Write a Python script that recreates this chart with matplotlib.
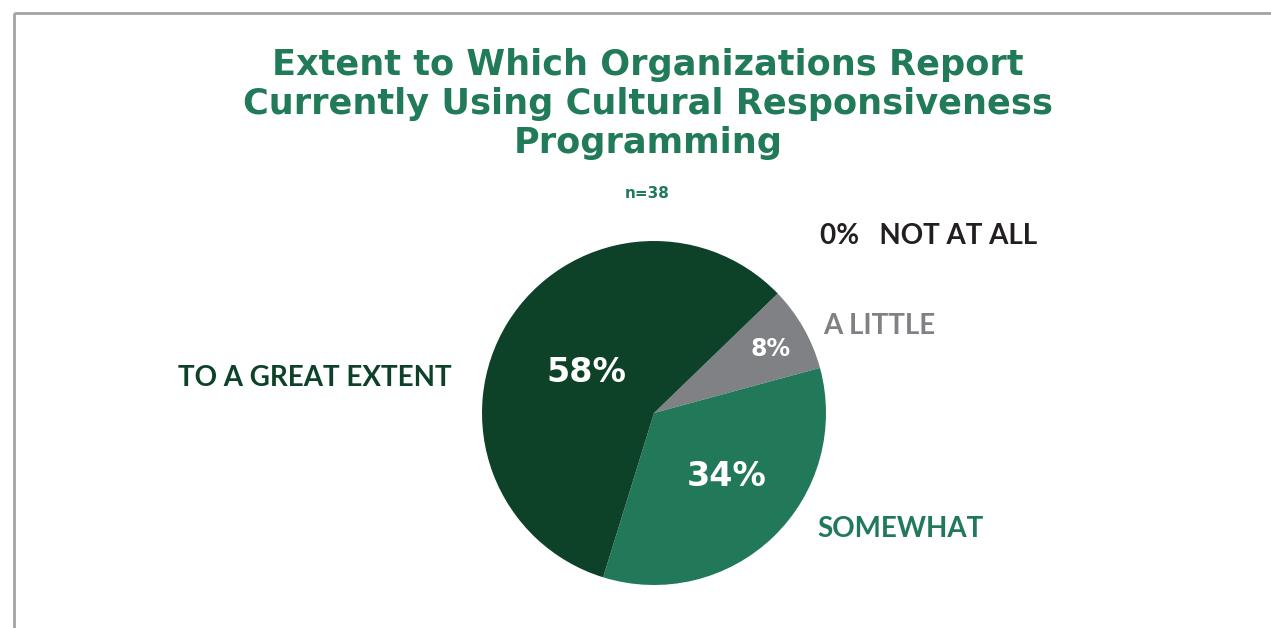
import matplotlib
matplotlib.use("Agg")
import matplotlib.pyplot as plt

# data
categories = ["NOT AT ALL", "A LITTLE", "SOMEWHAT", "TO A GREAT EXTENT"]
values = [0, 8, 34, 58]
colors = ["#231f20", "#808184", "#22795a", "#0d4229"]
n_label = "n=38"
title = "Extent to Which Organizations Report\nCurrently Using Cultural Responsiveness\nProgramming"

W, H = 1271, 628
fig = plt.figure(figsize=(W / 100, H / 100), dpi=100)
ax = fig.add_axes([0, 0, 1, 1])
ax.set_xlim(0, W)
ax.set_ylim(0, H)
ax.axis("off")

# frame lines top and left
ax.plot([14, W], [H - 13, H - 13], color="#a3a3a3", lw=2, solid_capstyle="butt")
ax.plot([14, 14], [0, H - 13], color="#a3a3a3", lw=2, solid_capstyle="butt")

cx, cy, r = 654, H - 413, 172
wedges, _ = ax.pie(values, colors=colors, startangle=44, counterclock=False,
                   center=(cx, cy), radius=r, frame=True,
                   wedgeprops=dict(linewidth=0))
ax.set_xlim(0, W)
ax.set_ylim(0, H)
ax.axis("off")

green = "#217a58"
ax.text(648, H - 104, title, ha="center", va="center", fontsize=25.3,
        fontweight="bold", color=green, linespacing=1.17, family="DejaVu Sans")
ax.text(647, H - 193, n_label, ha="center", va="center", fontsize=11,
        fontweight="bold", color=green, family="DejaVu Sans")

# percentage labels inside slices
inside = {1: (771, 349, 17), 2: (727, 477, 24), 3: (586, 373, 24)}
for i, (x, y, fs) in inside.items():
    ax.text(x, H - y, f"{values[i]}%", ha="center", va="center", fontsize=fs,
            fontweight="bold", color="white", family="DejaVu Sans")

# category labels outside
lab_font = "Lato"
fs = 20
ax.text(820, H - 236, f"{values[0]}%   {categories[0]}", ha="left", va="center",
        fontsize=fs, fontweight="bold", color=colors[0], family=lab_font)
ax.text(823, H - 326, categories[1], ha="left", va="center",
        fontsize=fs, fontweight="bold", color=colors[1], family=lab_font)
ax.text(817, H - 529, categories[2], ha="left", va="center",
        fontsize=fs, fontweight="bold", color=colors[2], family=lab_font)
ax.text(178, H - 378, categories[3], ha="left", va="center",
        fontsize=fs, fontweight="bold", color=colors[3], family=lab_font)

fig.savefig("out.png", dpi=100, facecolor="white")
